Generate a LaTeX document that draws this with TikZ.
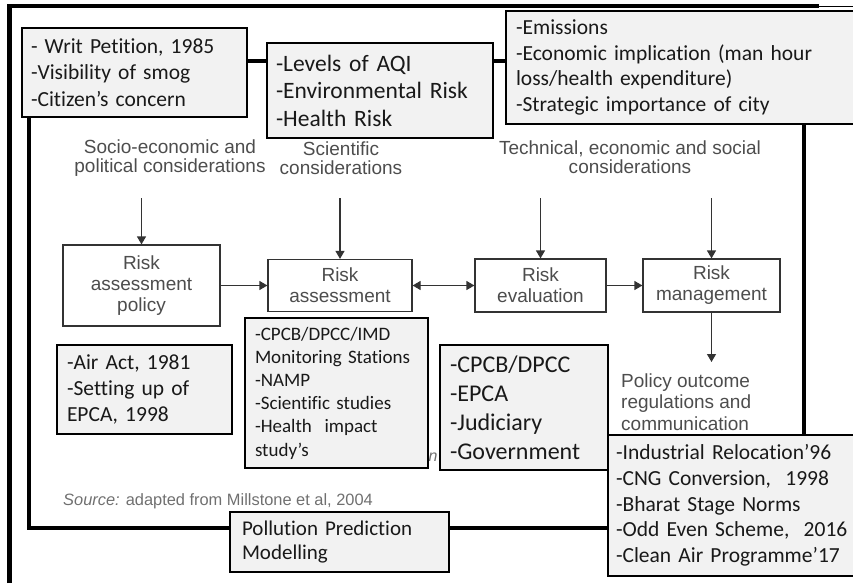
\documentclass[tikz,border=0pt]{standalone}
\usepackage{fontspec}
\setmainfont{Carlito}[Ligatures=NoCommon]
\newfontfamily\arialf{Liberation Sans}
\usetikzlibrary{arrows.meta}
\definecolor{boxgray}{HTML}{F2F2F2}
\definecolor{figgray}{HTML}{4D4D4D}
\definecolor{linegray}{HTML}{333333}
\definecolor{srcgray}{HTML}{707070}
\begin{document}
\begin{tikzpicture}[x=1pt,y=-1pt,
  gbox/.style={draw=black, line width=2pt, fill=boxgray, anchor=north west, inner xsep=10pt, inner ysep=0pt, align=left, text=black!90},
  rbox/.style={draw=linegray, line width=1.2pt, fill=white, align=center, text=figgray, inner sep=0pt, font=\arialf\fontsize{19}{21}\selectfont},
  figtext/.style={text=figgray, align=center, inner sep=0pt, font=\arialf\fontsize{19}{19.5}\selectfont},
  flow/.style={draw=linegray, line width=1.2pt, -{Triangle[width=9pt,length=8pt]}},
  bothflow/.style={draw=linegray, line width=1.2pt, {Triangle[width=9pt,length=8pt]}-{Triangle[width=9pt,length=8pt]}},
  frameline/.style={line width=4pt, draw=black}
]
\useasboundingbox (0,0) rectangle (853,583);
\begin{scope}
\clip (0,0) rectangle (853,583);
% outer L-shaped border
\draw[black, line width=5pt] (9.5,583) -- (9.5,4);
\draw[black, line width=4pt] (7,6) -- (819,6);
\draw[black, line width=1pt] (819,7) -- (853,7);
% inner frame
\draw[frameline] (28.5,61) rectangle (804,528);

% considerations
\node[figtext] (socio) at (170,158) {Socio-economic and\\political considerations};
\node[figtext] (sci) at (341,158) {Scientific\\considerations};
\node[figtext] (tech) at (630,157) {Technical, economic and social\\considerations};

% risk boxes
\node[rbox, minimum width=157pt, minimum height=81pt] (policy) at (141.5,285.5) {Risk\\assessment\\policy};
\node[rbox, minimum width=144pt, minimum height=52pt] (assess) at (340,285.5) {Risk\\assessment};
\node[rbox, minimum width=131pt, minimum height=53pt] (eval) at (540.5,285.5) {Risk\\evaluation};
\node[rbox, minimum width=137pt, minimum height=53pt] (manage) at (711.5,285.5) {Risk\\management};

\coordinate (a1) at (141.5,198);
\coordinate (a2) at (340,198);
\coordinate (a3) at (540.5,198);
\coordinate (a4) at (711.5,198);
\draw[flow] (a1) -- (policy.north);
\draw[flow] (a2) -- (assess.north);
\draw[flow] (a3) -- (eval.north);
\draw[flow] (a4) -- (manage.north);
\draw[flow] (policy.east) -- (assess.west);
\draw[bothflow] (assess.east) -- (eval.west);
\draw[flow] (eval.east) -- (manage.west);
\coordinate (outc) at (711.5,362);
\draw[flow] (manage.south) -- (outc);

\node[figtext, align=left, anchor=west, font=\arialf\fontsize{19}{21.5}\selectfont] (outcome) at (621,402) {Policy outcome\\regulations and\\communication};

\node[anchor=west, inner sep=0pt, text=srcgray, font=\arialf\fontsize{16.4}{19}\selectfont] (src) at (63,501) {\textit{Source:} adapted from Millstone et al, 2004};
\node[text=srcgray, inner sep=0pt, font=\arialf\itshape\fontsize{16}{18}\selectfont] (frag) at (433,457) {n};

% grey annotation boxes
\node[gbox, inner xsep=9pt, text width=207pt, minimum height=89pt, font=\fontsize{21.5}{26.5}\selectfont] (writ) at (21,27) {- Writ Petition, 1985\\-Visibility of smog\\-Citizen’s concern};
\node[gbox, inner xsep=9pt, text width=208pt, minimum height=95pt, font=\fontsize{23.5}{27.5}\selectfont] (levels) at (266,42) {-Levels of AQI\\-Environmental Risk\\-Health Risk};
\node[gbox, text width=333pt, minimum height=113pt, font=\fontsize{21.5}{25.7}\selectfont] (emis) at (505,10) {-Emissions\\-Economic implication (man hour\\loss/health expenditure)\\-Strategic importance of city};
\node[gbox, text width=155pt, minimum height=89pt, font=\fontsize{21.5}{26}\selectfont] (airact) at (56,344) {-Air Act, 1981\\-Setting up of\\EPCA, 1998};
\node[gbox, text width=163pt, minimum height=150pt, font=\fontsize{19}{23.2}\selectfont] (monit) at (244,317) {-CPCB/DPCC/IMD\\Monitoring Stations\\-NAMP\\-Scientific studies\\-Health\ \ impact\\study’s};
\node[gbox, text width=148pt, minimum height=125pt, font=\fontsize{24}{29}\selectfont] (agency) at (439,344) {-CPCB/DPCC\\-EPCA\\-Judiciary\\-Government};
\node[gbox, inner xsep=12pt, text width=195pt, minimum height=60pt, font=\fontsize{21}{24}\selectfont] (ppm) at (229,511) {Pollution Prediction\\Modelling};
\node[gbox, inner xsep=8pt, text width=300pt, minimum height=141pt, font=\fontsize{21.5}{25.7}\selectfont] (indus) at (607,434) {-Industrial Relocation’96\\-CNG Conversion,\ \ 1998\\-Bharat Stage Norms\\-Odd Even Scheme,\ \ 2016\\-Clean Air Programme’17};
\end{scope}
\end{tikzpicture}
\end{document}
